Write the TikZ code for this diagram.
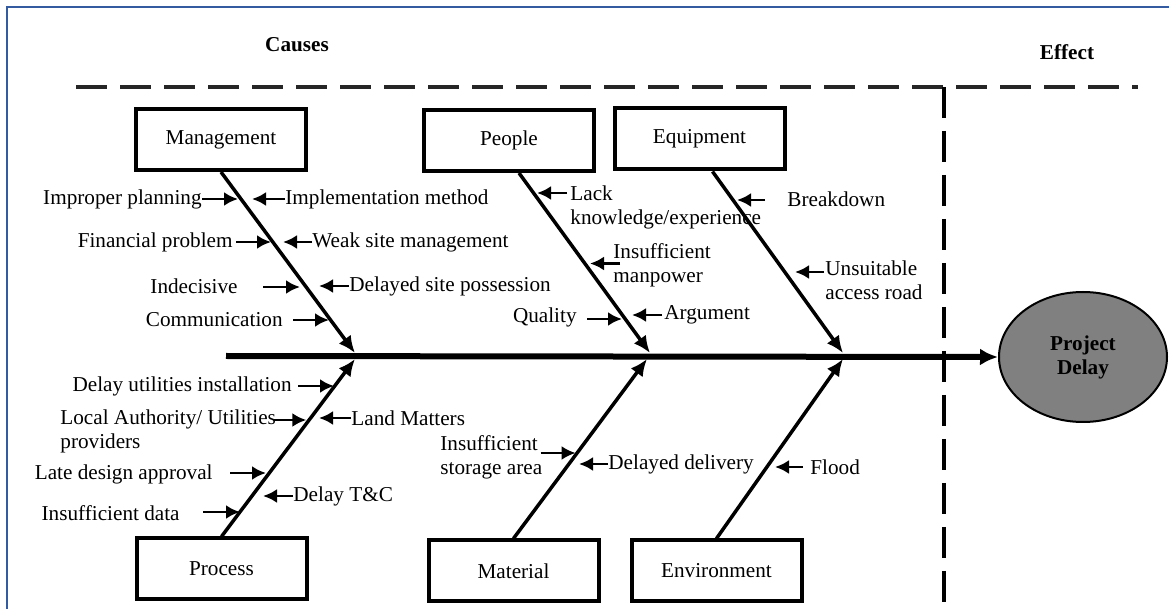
\documentclass[tikz,border=0pt]{standalone}
\usepackage{fontspec}
\setmainfont{Liberation Serif}
\usepackage{tikz}
\usetikzlibrary{arrows.meta, shapes.geometric}
\definecolor{frameblue}{RGB}{52,90,160}
\definecolor{effectgray}{RGB}{128,128,128}

\begin{document}
\begin{tikzpicture}[x=.5pt, y=-.5pt,
    every node/.style={font=\fontsize{10.6}{12}\selectfont},
    category/.style={draw, line width=2pt, minimum width=85pt, minimum height=30.5pt, inner sep=0pt},
    bone/.style={line width=1.75pt, -{Latex[length=8.5pt, width=7.5pt]}},
    spine/.style={line width=3pt, -{Latex[length=9pt, width=8.5pt]}},
    cause/.style={line width=1.4pt, -{Latex[length=7pt, width=7pt]}},
    causetext/.style={inner sep=0pt, align=left},
    divider/.style={line width=2.25pt, dash pattern=on 15.5pt off 6.5pt},
    heading/.style={font=\fontsize{10.6}{12}\selectfont\bfseries}
    ]
\useasboundingbox (0,0) rectangle (1169,609);
\draw[frameblue, line width=1.25pt] (7,609) -- (7,7) -- (1169,7);

% headings and dividers
\node[heading] (causes) at (297,45) {Causes};
\node[heading] (effect) at (1067,52) {Effect};
\draw[divider, black!85] (76,87) -- (1138,87);
\draw[divider] (944,87) -- (944,609);

% effect and spine
\node[ellipse, draw, line width=1pt, fill=effectgray, minimum width=84pt, minimum height=65pt,
      inner sep=0pt, align=center, heading] (delay) at (1083,357) {Project\\Delay};
\coordinate (tail) at (226,356);
\draw[spine] (tail) -- (delay.west);

% categories
\node[category] (mgmt) at (221,139.5) {Management};
\node[category] (people) at (509,140.5) {People};
\node[category] (equip) at (699.5,139) {Equipment};
\node[category] (process) at (221.5,569) {Process};
\node[category] (material) at (513.5,571) {Material};
\node[category] (environ) at (716.5,571) {Environment};

\coordinate (mj) at (355,353);
\coordinate (pj) at (650,353);
\coordinate (ej) at (843,353);
\coordinate (prj) at (355,359);
\coordinate (maj) at (647,359);
\coordinate (enj) at (843,359);

\draw[bone] (mgmt.south) -- (mj);
\draw[bone] ([xshift=5pt]people.south) -- (pj);
\draw[bone] ([xshift=6.5pt]equip.south) -- (ej);
\draw[bone] (process.north) -- (prj);
\draw[bone] (material.north) -- (maj);
\draw[bone] (environ.north) -- (enj);

% management
\node[causetext, anchor=east] (plan) at (202,199) {Improper planning};
\draw[cause] (plan.east) -- ++(36,0);
\node[causetext, anchor=west] (impl) at (285,199) {Implementation method};
\draw[cause] (impl.west) -- ++(-33,0);
\node[causetext, anchor=east] (fin) at (233,242) {Financial problem};
\draw[cause] (fin.east) ++(3,0) -- ++(35,0);
\node[causetext, anchor=west] (weak) at (312,242) {Weak site management};
\draw[cause] (weak.west) -- ++(-29,0);
\node[causetext, anchor=east] (indec) at (238,286) {Indecisive};
\draw[cause] (indec.east) ++(25,1) -- ++(37,0);
\node[causetext, anchor=west] (site) at (349,286) {Delayed site possession};
\draw[cause] (site.west) -- ++(-30,0);
\node[causetext, anchor=east] (comm) at (283,320) {Communication};
\draw[cause] (comm.east) ++(10,0) -- ++(36,0);

% process
\node[causetext, anchor=east] (util) at (292,386) {Delay utilities installation};
\draw[cause] (util.east) ++(6,0) -- ++(36,0);
\node[causetext, anchor=west] (local) at (60,431.5) {Local Authority/ Utilities\\providers};
\draw[cause] (local.east) ++(-2,-11.5) -- ++(32,0);
\node[causetext, anchor=west] (land) at (351,418) {Land Matters};
\draw[cause] (land.west) -- ++(-32,0);
\node[causetext, anchor=east] (late) at (213,474) {Late design approval};
\draw[cause] (late.east) ++(17,-1) -- ++(36,0);
\node[causetext, anchor=west] (tc) at (293,496) {Delay T\&C};
\draw[cause] (tc.west) -- ++(-30,0);
\node[causetext, anchor=east] (data) at (180,513) {Insufficient data};
\draw[cause] (data.east) ++(23,-1) -- ++(37,0);

% people
\node[causetext, anchor=west] (lack) at (570,207) {Lack\\knowledge/experience};
\draw[cause] (lack.west) ++(-3,-14) -- ++(-30,0);
\node[causetext, anchor=west] (manp) at (613,265.5) {Insufficient\\manpower};
\draw[cause] (manp.west) ++(7,-2) -- ++(-30,0);
\node[causetext, anchor=east] (qual) at (577,317) {Quality};
\draw[cause] (qual.east) ++(10,2) -- ++(35,0);
\node[causetext, anchor=west] (argu) at (664,315) {Argument};
\draw[cause] (argu.west) ++(-2,0) -- ++(-30,0);

% equipment
\node[causetext, anchor=west] (brk) at (787,199) {Breakdown};
\draw[cause] (brk.west) ++(-22,1) -- ++(-28,0);
\node[causetext, anchor=west] (road) at (825,280.5) {Unsuitable\\access road};
\draw[cause] (road.west) ++(-1,-8.5) -- ++(-29,0);

% material
\node[causetext, anchor=west] (stor) at (440,457) {Insufficient\\storage area};
\draw[cause] (stor.east) ++(-2,-4) -- ++(35,0);
\node[causetext, anchor=west] (deliv) at (608,464) {Delayed delivery};
\draw[cause] (deliv.west) -- ++(-29,0);

% environment
\node[causetext, anchor=west] (flood) at (810,467) {Flood};
\draw[cause] (flood.west) ++(-7,0) -- ++(-28,0);
\end{tikzpicture}
\end{document}
